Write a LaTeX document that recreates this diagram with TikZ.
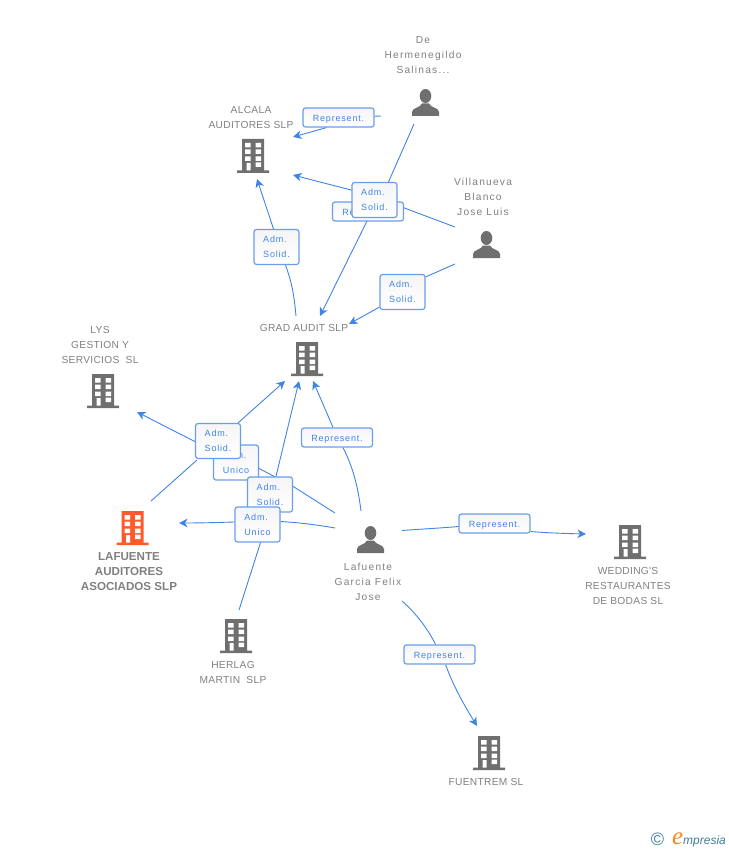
\documentclass[tikz,border=0pt]{standalone}
\usepackage{fontspec}
\setmainfont{Liberation Sans}
\newfontfamily\tagfont[LetterSpace=9]{Liberation Sans}
\newfontfamily\namefont[LetterSpace=3]{Liberation Sans}
\newfontfamily\personfont[LetterSpace=12]{Liberation Sans}
\newfontfamily\logofont{Liberation Serif}
\usetikzlibrary{arrows.meta,backgrounds}
\definecolor{iconGrey}{HTML}{6F6F6F}
\definecolor{textGrey}{HTML}{808080}
\definecolor{linkBlue}{HTML}{3F84E5}
\definecolor{tagEdge}{HTML}{6A9DE8}
\definecolor{tagShade}{HTML}{F5F5F7}
\definecolor{mainOrange}{HTML}{FF5A2B}
\definecolor{logoTeal}{HTML}{3F7F96}
\definecolor{logoOrange}{HTML}{F28A1E}
\tikzset{
  building/.style = {minimum width=32pt, minimum height=34pt, inner sep=0pt, path picture={
    \begin{scope}[shift={(path picture bounding box.center)}]
      \fill[#1] (-11,-17) rectangle (11,14.5) (-16,14.5) rectangle (16,17);
      \foreach \wy in {-13,-6.5,0.5}{
        \fill[white] (-8,\wy) rectangle (-2.5,\wy+4.5) (2.5,\wy) rectangle (8,\wy+4.5);
      }
      \fill[white] (-6.5,7) rectangle (-2.5,14.5) (2.5,6.5) rectangle (8,11);
    \end{scope}}},
  building/.default = iconGrey,
  person/.style = {minimum width=27pt, minimum height=27pt, inner sep=0pt, path picture={
    \begin{scope}[shift={(path picture bounding box.center)}]
      \fill[iconGrey] (0,-6.5) ellipse (5.8 and 7);
      \fill[iconGrey] (-13.5,13.5) -- (-13.5,9.5) .. controls (-13.5,5) and (-5,5.5) .. (-3.5,1)
        -- (3.5,1) .. controls (5,5.5) and (13.5,5) .. (13.5,9.5) -- (13.5,13.5) -- cycle;
    \end{scope}}},
  name text/.style = {text=textGrey, align=center, inner sep=0pt, font=\namefont\fontsize{10.2}{15}\selectfont},
  person text/.style = {name text, font=\personfont\fontsize{10.2}{15}\selectfont},
  tag/.style = {draw=tagEdge, line width=1.2pt, rounded corners=2.5pt, top color=tagShade, bottom color=white,
    text=linkBlue, inner sep=0pt, align=left, font=\tagfont\fontsize{9}{15}\selectfont},
  tag rep/.style = {tag, minimum width=71pt, minimum height=19pt, text height=9.5pt, text depth=2pt},
  tag adm/.style = {tag, minimum width=45pt, minimum height=35pt},
  link/.style = {draw=linkBlue, line width=0.9pt},
  link arrow/.style = {link, -{Stealth[length=8.5pt, width=8.5pt, inset=2.5pt]}}
}
\begin{document}
\begin{tikzpicture}[x=1pt, y=-1pt]
\useasboundingbox (0,0) rectangle (728,850);

\node[person] (hermIcon) at (425.5,102.5) {};
\node[person] (villaIcon) at (486.5,244.5) {};
\node[person] (felixIcon) at (370.5,539.5) {};
\node[building] (alcalaIcon) at (253,156) {};
\node[building] (gradIcon) at (307,359) {};
\node[building] (lysIcon) at (103,391) {};
\node[building=mainOrange] (lafuenteIcon) at (132.5,528) {};
\node[building] (herlagIcon) at (236,636) {};
\node[building] (weddingIcon) at (630,542) {};
\node[building] (fuentremIcon) at (489,753) {};

\node[person text] (hermName) at (423,55) {De\\Hermenegildo\\Salinas...};
\node[person text] (villaName) at (483,197) {Villanueva\\Blanco\\Jose Luis};
\node[person text] (felixName) at (368,582) {Lafuente\\Garcia Felix\\Jose};
\node[name text] (alcalaName) at (251,117.5) {ALCALA\\AUDITORES SLP};
\node[name text] (gradName) at (304,328) {GRAD AUDIT SLP};
\node[name text] (lysName) at (100,345) {LYS\\GESTION Y\\SERVICIOS\ \ SL};
\node[name text, font=\bfseries\fontsize{11.6}{15}\selectfont] (lafuenteName) at (129,572) {LAFUENTE\\AUDITORES\\ASOCIADOS SLP};
\node[name text] (herlagName) at (233,672.5) {HERLAG\\MARTIN\ \ SLP};
\node[name text] (weddingName) at (628,586) {WEDDING'S\\RESTAURANTES\\DE BODAS SL};
\node[name text] (fuentremName) at (486,782) {FUENTREM SL};

\node[tag rep] (repHerm) at (338.5,117.5) {Represent.};
\node[tag rep] (repVilla) at (368,211.5) {Represent.};
\node[tag adm] (admHerm) at (374.5,200) {Adm.\\Solid.};
\node[tag adm] (admVilla) at (402.5,292) {Adm.\\Solid.};
\node[tag adm] (admGrad) at (276.5,247) {Adm.\\Solid.};
\node[tag rep] (repFelix) at (337,437.5) {Represent.};
\node[tag adm] (unicoLys) at (236,462.5) {Adm.\\Unico};
\node[tag adm] (admLafuente) at (218,441) {Adm.\\Solid.};
\node[tag adm] (admFelix) at (270,494.5) {Adm.\\Solid.};
\node[tag adm] (unicoFelix) at (257.5,524.5) {Adm.\\Unico};
\node[tag rep] (repWedding) at (494.5,523.5) {Represent.};
\node[tag rep] (repFuentrem) at (439.5,654.5) {Represent.};

\coordinate (hermOutA) at (381,116);
\coordinate (hermOutB) at (414,124);
\coordinate (villaOutA) at (455,227);
\coordinate (villaOutB) at (455,264);
\coordinate (felixOutA) at (361,511);
\coordinate (felixOutB) at (335,513);
\coordinate (felixOutC) at (335,528);
\coordinate (felixOutD) at (402,530.5);
\coordinate (felixOutE) at (402,601);
\coordinate (gradOut) at (296,316);
\coordinate (lafuenteOut) at (151,501);
\coordinate (herlagOut) at (239,610);
\coordinate (alcalaInA) at (293,137);
\coordinate (alcalaInB) at (293,175);
\coordinate (alcalaInC) at (257,179);
\coordinate (gradInA) at (320,316);
\coordinate (gradInB) at (349,324);
\coordinate (gradInC) at (313,381);
\coordinate (gradInD) at (299,381);
\coordinate (gradInE) at (285,381);
\coordinate (lysIn) at (137,412);
\coordinate (lafuenteIn) at (179,523);
\coordinate (weddingIn) at (586,534);
\coordinate (fuentremIn) at (477,726);

\begin{scope}[on background layer]
  \draw[link] (hermOutA) -- (repHerm);
  \draw[link arrow] ([xshift=-12pt]repHerm.south) -- (alcalaInA);
  \draw[link] (hermOutB) -- ([xshift=14pt]admHerm.north);
  \draw[link arrow] ([xshift=-6pt]admHerm.south) -- (gradInA);
  \draw[link] (villaOutA) -- ([yshift=7pt]repVilla.north);
  \draw[link arrow] ([yshift=7pt]repVilla.north) -- (alcalaInB);
  \draw[link] (villaOutB) -- ([yshift=-3pt]admVilla.north east);
  \draw[link arrow] ([yshift=3pt]admVilla.south west) -- (gradInB);
  \draw[link] (gradOut) .. controls (294,293) and (291,280) .. ([xshift=9pt]admGrad.south);
  \draw[link arrow] ([xshift=-3pt]admGrad.north) -- (alcalaInC);
  \draw[link] (felixOutA) .. controls (358,487) and (353,467) .. ([xshift=6pt]repFelix.south);
  \draw[link arrow] ([xshift=-4pt]repFelix.north) -- (gradInC);
  \draw[link] (felixOutB) -- ([yshift=-10pt]admFelix.north east);
  \draw[link arrow] ([xshift=6pt]admFelix.north) -- (gradInD);
  \draw[link] ([yshift=-10pt]admFelix.north east) -- ([yshift=-6pt]unicoLys.east);
  \draw[link arrow] (unicoLys) -- (lysIn);
  \draw[link] (lafuenteOut) -- ([xshift=2pt,yshift=-1pt]admLafuente.south west);
  \draw[link arrow] ([xshift=20pt]admLafuente.north) -- (gradInE);
  \draw[link] (felixOutC) .. controls (315,524.5) and (298,522.5) .. ([yshift=3pt]unicoFelix.east);
  \draw[link arrow] ([yshift=2.5pt]unicoFelix.west) .. controls (218,522.5) and (200,523) .. (lafuenteIn);
  \draw[link] (herlagOut) -- ([xshift=3pt]unicoFelix.south);
  \draw[link] (felixOutD) .. controls (422,529) and (442,528) .. ([yshift=-3pt]repWedding.west);
  \draw[link arrow] ([yshift=-8pt]repWedding.east) .. controls (548,533) and (566,533.5) .. (weddingIn);
  \draw[link] (felixOutE) .. controls (417,614) and (429,631) .. ([xshift=-4pt]repFuentrem.north);
  \draw[link arrow] ([xshift=6pt]repFuentrem.south) .. controls (455,690) and (466,708) .. (fuentremIn);
\end{scope}

\node[inner sep=0pt, text=logoTeal, font=\fontsize{18}{18}\selectfont] (logoMark) at (657.5,839.5) {©};
\node[inner sep=0pt, anchor=base west, text=logoOrange, font=\logofont\itshape\fontsize{25}{25}\selectfont] (logoInitial) at (672,844) {e};
\node[inner sep=0pt, anchor=base west, text=logoTeal, font=\itshape\fontsize{12}{12}\selectfont] (logoWord) at (683,844) {mpresia};
\end{tikzpicture}
\end{document}
